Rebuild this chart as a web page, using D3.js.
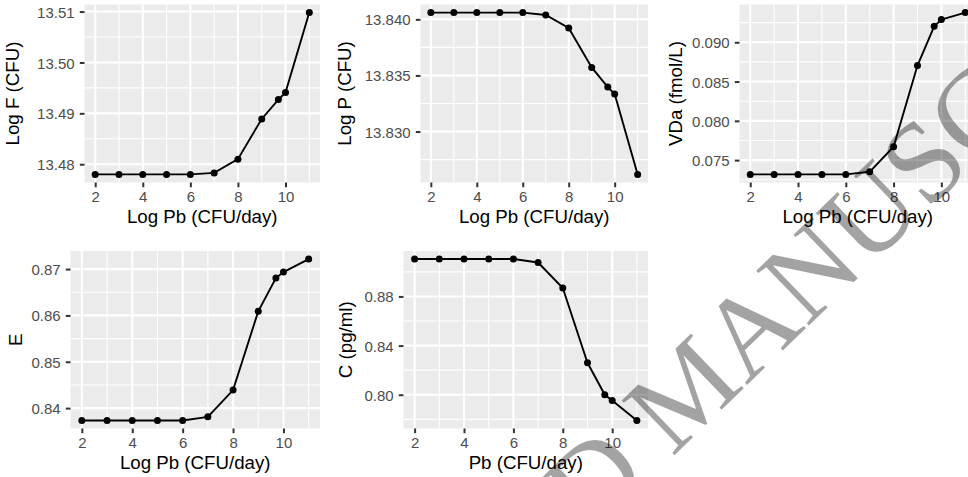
<!DOCTYPE html>
<html>
<head>
<meta charset="utf-8">
<script src="https://cdn.jsdelivr.net/npm/d3@7"></script>
<style>
  html, body { margin: 0; padding: 0; background: #ffffff; }
  svg { display: block; }
</style>
</head>
<body>
<svg id="chart" width="968" height="477"></svg>
<script>
// ---------------- DATA ----------------
const xVals = [2, 3, 4, 5, 6, 7, 8, 9, 9.7, 10, 11];

const logF = [13.4780, 13.4780, 13.4780, 13.4780, 13.4780, 13.4783, 13.4810, 13.4889, 13.4927, 13.4941, 13.5098];
const logP = [13.84060, 13.84060, 13.84060, 13.84060, 13.84060, 13.84039, 13.83923, 13.83571, 13.83396, 13.83334, 13.82618];
const vda  = [0.07318, 0.07318, 0.07318, 0.07318, 0.07318, 0.07351, 0.07670, 0.08704, 0.09204, 0.09290, 0.09378];
const eVals = [0.83734, 0.83734, 0.83734, 0.83734, 0.83734, 0.83812, 0.84390, 0.86090, 0.86805, 0.86935, 0.87216];
const cVals = [0.9104, 0.9104, 0.9104, 0.9104, 0.9104, 0.9076, 0.8868, 0.8260, 0.8000, 0.7954, 0.7791];

const xTicks = [2, 4, 6, 8, 10];
const fTicks = [13.48, 13.49, 13.50, 13.51];
const pTicks = [13.830, 13.835, 13.840];
const vdaTicks = [0.075, 0.080, 0.085, 0.090];
const eTicks = [0.84, 0.85, 0.86, 0.87];
const cTicks = [0.80, 0.84, 0.88];

const xTitles = ["Log Pb (CFU/day)", "Log Pb (CFU/day)", "Log Pb (CFU/day)", "Log Pb (CFU/day)", "Pb (CFU/day)"];
const yTitles = ["Log F (CFU)", "Log P (CFU)", "VDa (fmol/L)", "E", "C (pg/ml)"];
const watermark = "ACCEPTED MANUSCRIPT";

// ---------------- LAYOUT ----------------
const panels = [
  { y: logF,  ticks: fTicks,   fmt: ".2f", box: { l: 84.5,  r: 320, t: 4.5, b: 182.5 }, yTitleX: 18.5 },
  { y: logP,  ticks: pTicks,   fmt: ".3f", box: { l: 420.5, r: 648, t: 4.5, b: 182.5 }, yTitleX: 351 },
  { y: vda,   ticks: vdaTicks, fmt: ".3f", box: { l: 739.5, r: 976, t: 4.5, b: 182.5 }, yTitleX: 681.5 },
  { y: eVals, ticks: eTicks,   fmt: ".2f", box: { l: 70.5,  r: 320, t: 251, b: 428.5 }, yTitleX: 22 },
  { y: cVals, ticks: cTicks,   fmt: ".2f", box: { l: 403.5, r: 648, t: 251, b: 428.5 }, yTitleX: 351.5 }
];

const svg = d3.select("#chart");
svg.append("rect").attr("width", 968).attr("height", 477).attr("fill", "#ffffff");

const FONT = "'Liberation Sans', Arial, Helvetica, sans-serif";

function expand(ext) {
  const d = ext[1] - ext[0];
  return [ext[0] - 0.05 * d, ext[1] + 0.05 * d];
}
function minorBreaks(majors, domain) {
  const bd = majors[1] - majors[0];
  const b = [majors[0] - bd, ...majors, majors[majors.length - 1] + bd];
  const out = [];
  for (let i = 0; i < b.length - 1; i++) {
    const m = (b[i] + b[i + 1]) / 2;
    if (m >= domain[0] && m <= domain[1]) out.push(m);
  }
  return out;
}

panels.forEach((p, i) => {
  const { l, r, t, b } = p.box;
  const xDom = expand(d3.extent(xVals));
  const yDom = expand(d3.extent(p.y));
  const x = d3.scaleLinear().domain(xDom).range([l, r]);
  const y = d3.scaleLinear().domain(yDom).range([b, t]);

  const g = svg.append("g");
  const clipId = "clip" + i;
  svg.append("clipPath").attr("id", clipId)
    .append("rect").attr("x", l).attr("y", t).attr("width", r - l).attr("height", b - t);

  g.append("rect").attr("x", l).attr("y", t).attr("width", r - l).attr("height", b - t)
    .attr("fill", "#EBEBEB");

  const grid = g.append("g").attr("clip-path", `url(#${clipId})`);
  const xMinor = minorBreaks(xTicks, xDom);
  const yMinor = minorBreaks(p.ticks, yDom);

  grid.selectAll(".ymin").data(yMinor).join("line")
    .attr("x1", l).attr("x2", r).attr("y1", d => y(d)).attr("y2", d => y(d))
    .attr("stroke", "#ffffff").attr("stroke-width", 1.1);
  grid.selectAll(".xmin").data(xMinor).join("line")
    .attr("y1", t).attr("y2", b).attr("x1", d => x(d)).attr("x2", d => x(d))
    .attr("stroke", "#ffffff").attr("stroke-width", 1.1);
  grid.selectAll(".ymaj").data(p.ticks).join("line")
    .attr("x1", l).attr("x2", r).attr("y1", d => y(d)).attr("y2", d => y(d))
    .attr("stroke", "#ffffff").attr("stroke-width", 2.1);
  grid.selectAll(".xmaj").data(xTicks).join("line")
    .attr("y1", t).attr("y2", b).attr("x1", d => x(d)).attr("x2", d => x(d))
    .attr("stroke", "#ffffff").attr("stroke-width", 2.1);

  // data
  const pts = xVals.map((xv, k) => [xv, p.y[k]]);
  const data = g.append("g").attr("clip-path", `url(#${clipId})`);
  data.append("path").datum(pts)
    .attr("d", d3.line().x(d => x(d[0])).y(d => y(d[1])))
    .attr("fill", "none").attr("stroke", "#000000").attr("stroke-width", 1.9);
  data.selectAll("circle").data(pts).join("circle")
    .attr("cx", d => x(d[0])).attr("cy", d => y(d[1])).attr("r", 3.5)
    .attr("fill", "#000000");

  // axes
  const xa = g.append("g").attr("transform", `translate(0,${b})`)
    .call(d3.axisBottom(x).tickValues(xTicks).tickSize(4.7).tickPadding(4.5).tickFormat(d3.format("d")));
  const ya = g.append("g").attr("transform", `translate(${l},0)`)
    .call(d3.axisLeft(y).tickValues(p.ticks).tickSize(4.7).tickPadding(5.2).tickFormat(d3.format(p.fmt)));
  [xa, ya].forEach(a => {
    a.select(".domain").remove();
    a.selectAll(".tick line").attr("stroke", "#333333").attr("stroke-width", 2);
    a.selectAll(".tick text").attr("fill", "#4D4D4D").attr("font-family", FONT).attr("font-size", 15);
  });
  ya.selectAll(".tick text").attr("dy", "0.37em");

  // titles
  g.append("text")
    .attr("x", (l + Math.min(r, 976)) / 2).attr("y", b + 40.2)
    .attr("text-anchor", "middle").attr("font-family", FONT).attr("font-size", 18.7)
    .attr("fill", "#000000").text(xTitles[i]);
  g.append("text")
    .attr("transform", `translate(${p.yTitleX},${(t + b) / 2}) rotate(-90)`)
    .attr("text-anchor", "middle").attr("font-family", FONT).attr("font-size", 18.7)
    .attr("fill", "#000000").text(yTitles[i]);
});

// watermark
svg.append("text")
  .attr("transform", "translate(220,894) rotate(-44)")
  .attr("font-family", "'Liberation Serif', 'Times New Roman', serif")
  .attr("font-size", 116)
  .attr("fill", "#000000").attr("fill-opacity", 0.36)
  .text(watermark);
</script>
</body>
</html>
